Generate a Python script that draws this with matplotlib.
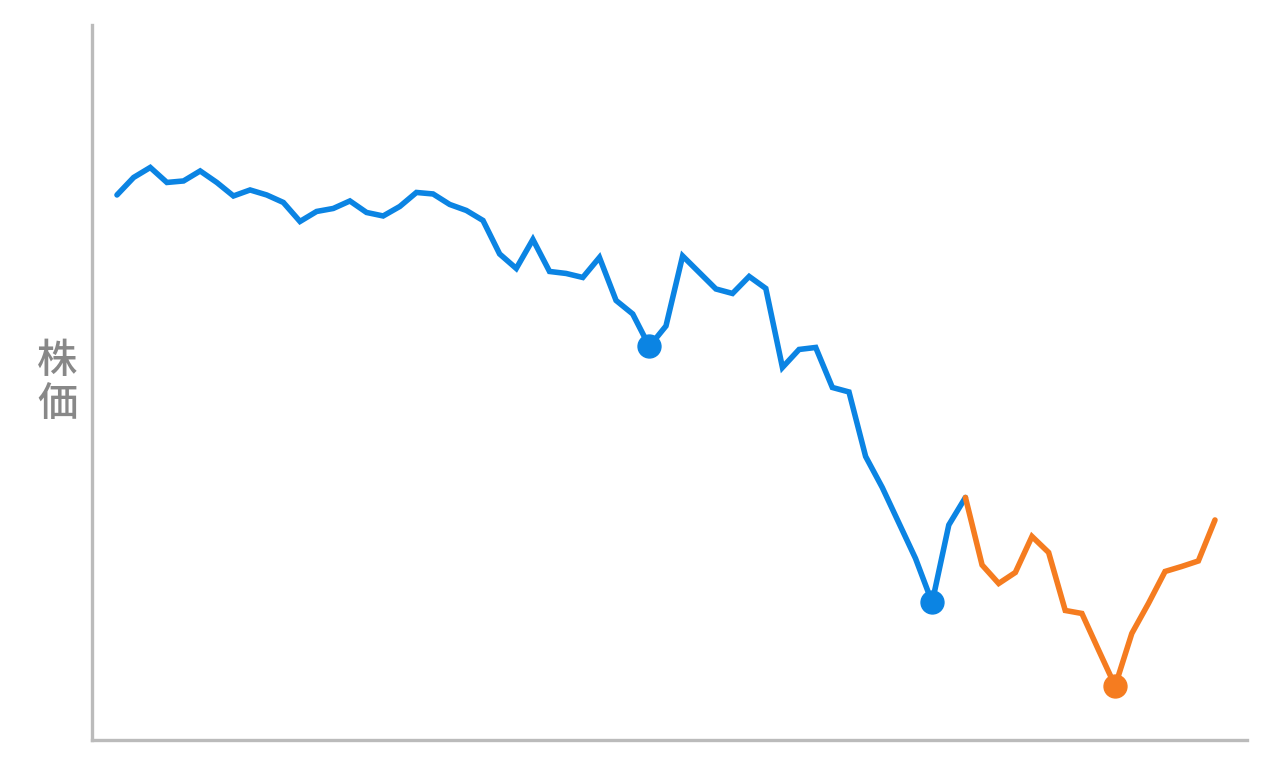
import matplotlib
matplotlib.use('Agg')
import matplotlib.pyplot as plt

plt.rcParams['font.family'] = ['Noto Sans CJK JP', 'DejaVu Sans']

# 株価データ（前半：青、後半：オレンジ）
blue_prices = [209.0, 212.5, 214.5, 211.5, 211.8, 213.8, 211.5, 208.8, 210.0, 209.0,
               207.5, 203.7, 205.7, 206.3, 207.8, 205.5, 204.8, 206.7, 209.5, 209.2,
               207.1, 205.9, 203.9, 197.2, 194.3, 200.1, 193.7, 193.3, 192.5, 196.5,
               187.9, 185.2, 178.7, 182.8, 196.8, 193.5, 190.2, 189.3, 192.7, 190.3,
               174.5, 178.1, 178.5, 170.5, 169.6, 156.7, 150.5, 143.4, 136.3, 127.5,
               143.0, 148.5]
orange_prices = [148.5, 135.0, 131.3, 133.5, 140.7, 137.5, 125.9, 125.3, 118.0, 110.8,
                 121.3, 127.3, 133.7, 134.7, 135.8, 144.0]
blue_marks = [32, 49]      # 青い線の丸印（インデックス）
orange_marks = [9]         # オレンジの線の丸印

BLUE = '#0b84e3'
ORANGE = '#f57c20'
GRAY = '#bbbbbb'

blue_x = list(range(len(blue_prices)))
start = len(blue_prices) - 1
orange_x = list(range(start, start + len(orange_prices)))

fig = plt.figure(figsize=(12.8, 7.68), dpi=100)
ax = fig.add_axes([0.0719, 0.0365, 0.902, 0.931])

ax.plot(blue_x, blue_prices, color=BLUE, linewidth=4.0, solid_capstyle='round',
        solid_joinstyle='miter')
ax.plot(orange_x, orange_prices, color=ORANGE, linewidth=4.0, solid_capstyle='round',
        solid_joinstyle='miter')
ax.plot([blue_x[i] for i in blue_marks], [blue_prices[i] for i in blue_marks],
        'o', color=BLUE, markersize=16.5)
ax.plot([orange_x[i] for i in orange_marks], [orange_prices[i] for i in orange_marks],
        'o', color=ORANGE, markersize=16.5)

ax.set_xlim(-1.5, 67.9)
ax.set_ylim(100, 243)
ax.set_xticks([])
ax.set_yticks([])
for side in ['top', 'right']:
    ax.spines[side].set_visible(False)
for side in ['left', 'bottom']:
    ax.spines[side].set_color(GRAY)
    ax.spines[side].set_linewidth(2.4)

fig.text(57 / 1280, 1 - 383 / 768, '株\n価', fontsize=29, color='#888888',
         fontweight='medium', ha='center', va='center', linespacing=1.05)

fig.savefig('out.png', dpi=100)
